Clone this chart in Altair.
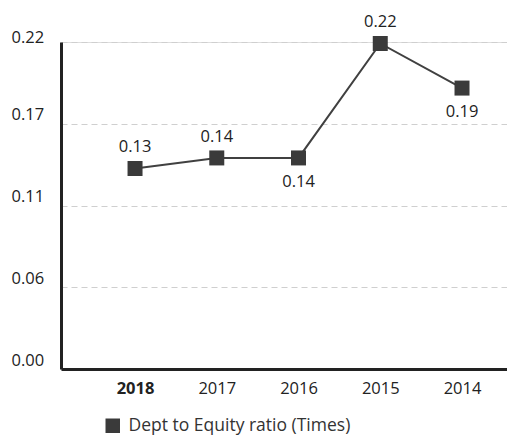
import altair as alt
import pandas as pd

# Debt-to-equity ratio by fiscal year
years = ["2018", "2017", "2016", "2015", "2014"]
ratios = [0.1349, 0.142, 0.142, 0.219, 0.189]
series_name = "Dept to Equity ratio (Times)"

y_ticks = [0, 0.055, 0.11, 0.165, 0.22]

labels_above = ["2018", "2017", "2015"]
labels_below = ["2016", "2014"]

df = pd.DataFrame({"year": years, "ratio": ratios, "series": series_name})

FONT = "Open Sans"
FS = 16.5
DARK = "#3a3a3a"

x_enc = alt.X(
    "year:N",
    sort=years,
    scale=alt.Scale(type="point", padding=0.728, align=0.622),
    axis=alt.Axis(
        title=None,
        labelAngle=0,
        ticks=False,
        grid=False,
        domainWidth=3,
        domainColor="#222222",
        labelPadding=11,
        labelFontSize=FS,
        labelFont=FONT,
        labelColor="#222222",
        labelFontWeight={
            "condition": {"test": "datum.value == '2018'", "value": "bold"},
            "value": "normal",
        },
    ),
)

y_enc = alt.Y(
    "ratio:Q",
    scale=alt.Scale(domain=[0, 0.22], nice=False, zero=True),
    axis=alt.Axis(
        title=None,
        values=y_ticks,
        format=".2f",
        ticks=False,
        grid=True,
        gridDash=[6, 4],
        gridColor="#cfcfcf",
        gridWidth=1.2,
        domainWidth=3,
        domainColor="#222222",
        labelAlign="left",
        labelPadding=50,
        labelOffset={
            "condition": {"test": "datum.value >= 0.21", "value": -5},
            "value": -9,
        },
        labelFontSize=FS,
        labelFont=FONT,
        labelColor="#222222",
    ),
)

base = alt.Chart(df).encode(x=x_enc, y=y_enc)

line = base.mark_line(color="#404040", strokeWidth=2)

points = base.mark_point(
    shape="square", filled=True, size=225, opacity=1
).encode(
    color=alt.Color(
        "series:N",
        scale=alt.Scale(range=[DARK]),
        legend=alt.Legend(
            title=None,
            orient="none",
            legendX=43,
            legendY=375,
            symbolType="square",
            symbolSize=210,
            symbolStrokeWidth=0,
            labelFontSize=17.5,
            labelFont=FONT,
            labelColor="#333333",
            labelLimit=400,
            labelOffset=7,
            padding=0,
        ),
    )
)

text_above = base.transform_filter(
    alt.FieldOneOfPredicate(field="year", oneOf=labels_above)
).mark_text(dy=-21, fontSize=FS, font=FONT, color="#222222").encode(
    text=alt.Text("ratio:Q", format=".2f")
)

text_below = base.transform_filter(
    alt.FieldOneOfPredicate(field="year", oneOf=labels_below)
).mark_text(dy=24, fontSize=FS, font=FONT, color="#222222").encode(
    text=alt.Text("ratio:Q", format=".2f")
)

chart = (
    alt.layer(line, points, text_above, text_below)
    .properties(
        width=446,
        height=327,
        padding={"left": 61, "top": 42, "right": 0, "bottom": 67},
        autosize=alt.AutoSizeParams(type="none"),
    )
    .configure_view(stroke=None)
    .configure(background="white")
)

chart.save("out.html", embed_options={"renderer": "svg", "actions": False})
